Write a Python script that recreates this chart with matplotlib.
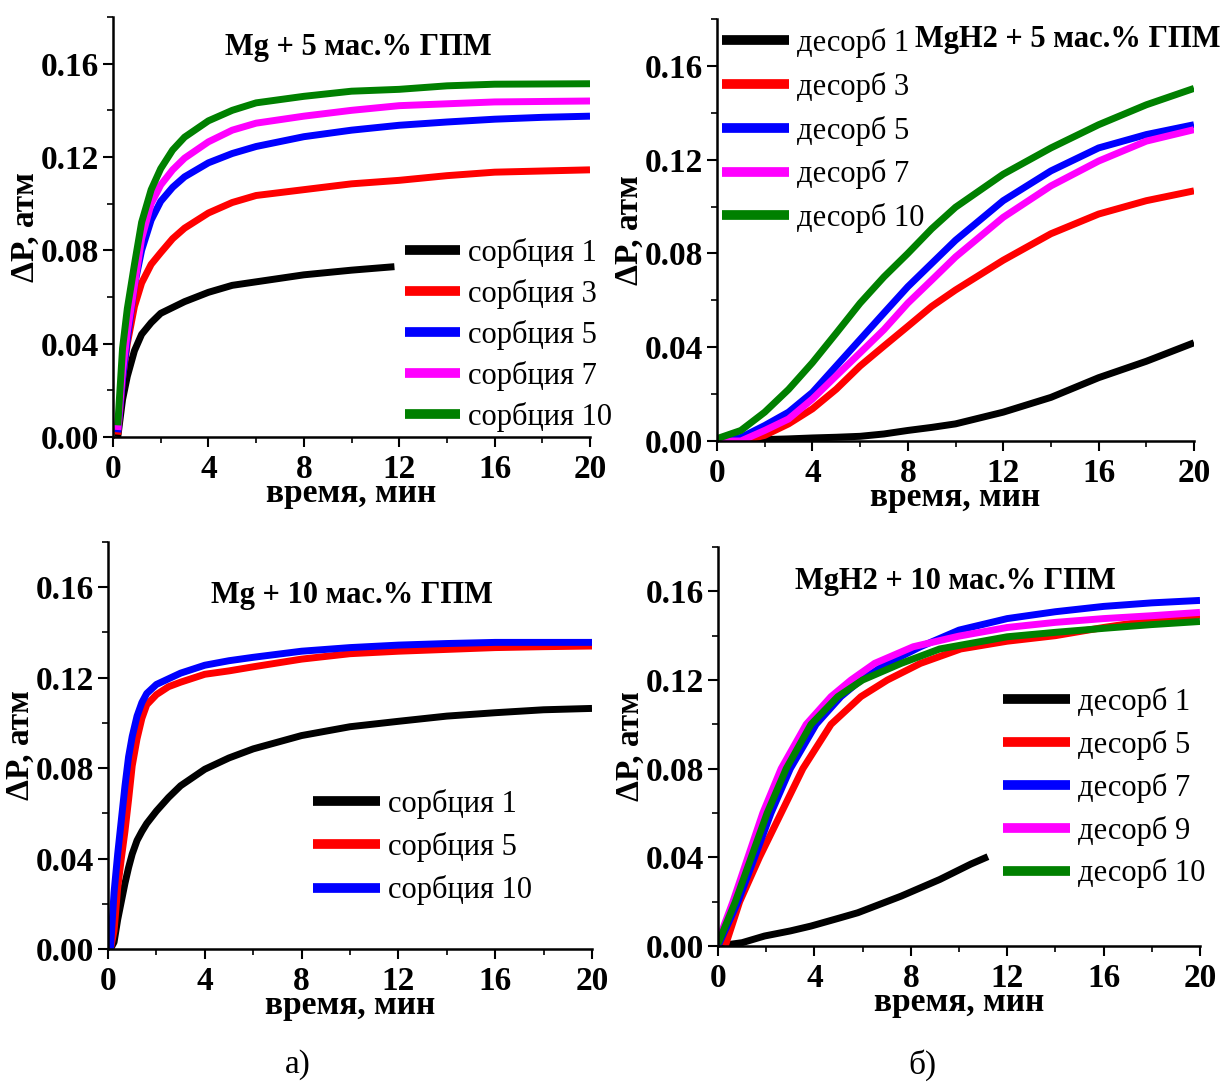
import matplotlib
matplotlib.use("Agg")
import matplotlib.pyplot as plt

plt.rcParams['font.family'] = ['Liberation Serif', 'DejaVu Serif']

# ---------------- data ----------------
# Panel a-top: Mg + 5 mass.% GPM (sorption)
t_a1 = [0.2, 0.4, 0.6, 0.9, 1.2, 1.6, 2, 2.5, 3, 4, 5, 6, 8, 10, 12, 14, 16, 18, 20]
a1_s1_t = [0.2, 0.4, 0.6, 0.9, 1.2, 1.6, 2, 2.5, 3, 4, 5, 6, 8, 10, 11.8]
a1_s1 = [0.0, 0.016, 0.026, 0.037, 0.044, 0.049, 0.053, 0.0555, 0.058, 0.062, 0.065, 0.0665, 0.0695, 0.0715, 0.0730]
a1_s3 = [0.001, 0.025, 0.040, 0.056, 0.066, 0.074, 0.079, 0.085, 0.0895, 0.096, 0.1005, 0.1035, 0.106, 0.1085, 0.110, 0.112, 0.1135, 0.114, 0.1145]
a1_s5 = [0.002, 0.025, 0.042, 0.065, 0.080, 0.093, 0.101, 0.107, 0.1115, 0.1175, 0.1215, 0.1245, 0.1287, 0.1315, 0.1336, 0.135, 0.1362, 0.137, 0.1375]
a1_s7 = [0.003, 0.028, 0.045, 0.065, 0.085, 0.100, 0.108, 0.1145, 0.1195, 0.1265, 0.1315, 0.1345, 0.1375, 0.140, 0.142, 0.1428, 0.1436, 0.1438, 0.144]
a1_s10 = [0.005, 0.038, 0.055, 0.074, 0.092, 0.106, 0.115, 0.123, 0.1285, 0.1355, 0.140, 0.1432, 0.146, 0.1482, 0.149, 0.1505, 0.1512, 0.1513, 0.1514]

# Panel b-top: MgH2 + 5 mass.% GPM (desorption)
t_b1 = [0, 1, 2, 3, 4, 5, 6, 7, 8, 9, 10, 12, 14, 16, 18, 20]
b1_d1 = [0.0, 0.0003, 0.0006, 0.0009, 0.0013, 0.0016, 0.0020, 0.0030, 0.0045, 0.0058, 0.0073, 0.0123, 0.0186, 0.0270, 0.0340, 0.0419]
b1_d3 = [0.0, 0.0, 0.0024, 0.0073, 0.0137, 0.0221, 0.0320, 0.0405, 0.0489, 0.0574, 0.0644, 0.0771, 0.0884, 0.0968, 0.1025, 0.1067]
b1_d5 = [0.0, 0.0015, 0.0066, 0.0123, 0.0207, 0.0320, 0.0433, 0.0546, 0.0658, 0.0757, 0.0856, 0.1025, 0.1152, 0.1250, 0.1307, 0.1349]
b1_d7 = [0.0, 0.0, 0.0045, 0.0094, 0.0179, 0.0278, 0.0376, 0.0475, 0.0588, 0.0686, 0.0785, 0.0954, 0.1088, 0.1194, 0.1279, 0.1328]
b1_d10 = [0.001, 0.0045, 0.0123, 0.0220, 0.0334, 0.0460, 0.0588, 0.0700, 0.0800, 0.0905, 0.0997, 0.1138, 0.1250, 0.1349, 0.1434, 0.1504]

# Panel a-bottom: Mg + 10 mass.% GPM (sorption)
t_a2 = [0.1, 0.25, 0.4, 0.55, 0.7, 0.85, 1.0, 1.2, 1.4, 1.6, 2, 2.5, 3, 4, 5, 6, 8, 10, 12, 14, 16, 18, 20]
a2_s1 = [0.0, 0.003, 0.013, 0.021, 0.029, 0.036, 0.042, 0.048, 0.052, 0.0555, 0.061, 0.067, 0.0722, 0.0795, 0.0845, 0.0885, 0.0944, 0.0983, 0.1007, 0.1030, 0.1045, 0.1058, 0.1064]
a2_s5 = [0.0, 0.008, 0.027, 0.040, 0.052, 0.066, 0.081, 0.093, 0.102, 0.108, 0.1125, 0.116, 0.118, 0.1215, 0.123, 0.1248, 0.1282, 0.1306, 0.1317, 0.1325, 0.1333, 0.1337, 0.1340]
a2_s10 = [0.0, 0.025, 0.042, 0.057, 0.072, 0.085, 0.094, 0.103, 0.109, 0.113, 0.117, 0.1195, 0.122, 0.1255, 0.1275, 0.129, 0.1317, 0.1333, 0.1344, 0.1351, 0.1356, 0.1356, 0.1356]

# Panel b-bottom: MgH2 + 10 mass.% GPM (desorption)
b2_d1_t = [0, 1.0, 1.93, 3.0, 3.86, 5.0, 5.8, 7.6, 9.2, 10.5, 11.2]
b2_d1 = [0.0, 0.0015, 0.0045, 0.0068, 0.009, 0.0125, 0.015, 0.0225, 0.030, 0.037, 0.0403]
b2_d5_t = [0.3, 0.9, 1.72, 2.62, 3.52, 4.69, 5.93, 7.03, 8.4, 10.07, 12, 14, 16, 18, 20]
b2_d5 = [0.0, 0.02, 0.04, 0.06, 0.08, 0.10, 0.1125, 0.12, 0.1275, 0.134, 0.1375, 0.140, 0.1437, 0.1469, 0.1493]
b2_d7_t = [0, 0.83, 1.52, 2.2, 3.0, 4.07, 5.1, 5.93, 7.03, 8.4, 10, 12, 14, 16, 18, 20]
b2_d7 = [0.0, 0.02, 0.04, 0.06, 0.08, 0.10, 0.1125, 0.12, 0.1275, 0.135, 0.1425, 0.1477, 0.1508, 0.1532, 0.1548, 0.1559]
b2_d9_t = [0, 0.62, 1.24, 1.86, 2.62, 3.66, 4.69, 5.52, 6.5, 8.1, 10, 12, 14, 16, 18, 20]
b2_d9 = [0.002, 0.02, 0.04, 0.06, 0.08, 0.10, 0.1125, 0.12, 0.1275, 0.135, 0.1398, 0.1437, 0.146, 0.1477, 0.149, 0.1505]
b2_d10_t = [0, 0.72, 1.38, 2.04, 2.83, 3.86, 4.97, 6.0, 7.6, 9.2, 12, 14, 16, 18, 20]
b2_d10 = [0.001, 0.02, 0.04, 0.06, 0.08, 0.10, 0.1125, 0.12, 0.1275, 0.134, 0.1395, 0.1415, 0.1433, 0.145, 0.1464]

xticks = [0, 4, 8, 12, 16, 20]
yticks = [0.00, 0.04, 0.08, 0.12, 0.16]
ytick_labels = ['0.00', '0.04', '0.08', '0.12', '0.16']

C_BLACK, C_RED, C_BLUE, C_MAG, C_GREEN = '#000000', '#ff0000', '#0000ff', '#ff00ff', '#008000'

W, H = 1227, 1082
fig = plt.figure(figsize=(W / 100, H / 100), dpi=100)


def px_axes(l, r, b, t):
    return fig.add_axes([l / W, 1 - b / H, (r - l) / W, (b - t) / H])


def style(ax):
    ax.set_xlim(0, 20)
    ax.set_ylim(0, 0.18)
    for s in ['top', 'right']:
        ax.spines[s].set_visible(False)
    for s in ['left', 'bottom']:
        ax.spines[s].set_linewidth(1.8)
    ax.set_xticks(xticks)
    ax.set_xticklabels([str(v) for v in xticks])
    ax.set_xticks([2, 6, 10, 14, 18], minor=True)
    ax.set_yticks(yticks)
    ax.set_yticklabels(ytick_labels)
    ax.set_yticks([0.02, 0.06, 0.10, 0.14, 0.18], minor=True)
    ax.tick_params(which='major', direction='out', length=7, width=1.5, labelsize=24, pad=3)
    ax.tick_params(axis='x', which='major', pad=5)
    ax.tick_params(which='minor', direction='out', length=4, width=1.2)
    for lab in ax.get_xticklabels() + ax.get_yticklabels():
        lab.set_fontweight('bold')
    ax.set_xlabel('время, мин', fontsize=24, fontweight='bold', labelpad=-5)
    ax.set_ylabel('ΔP, атм', fontsize=24, fontweight='bold', labelpad=0)


LW = 5
KW = dict(lw=LW, solid_joinstyle='round', solid_capstyle='butt')

# ---- top-left
ax1 = px_axes(113, 590, 437, 17)
style(ax1)
ax1.plot(a1_s1_t, a1_s1, color=C_BLACK, label='сорбция 1', **KW)
ax1.plot(t_a1, a1_s3, color=C_RED, label='сорбция 3', **KW)
ax1.plot(t_a1, a1_s5, color=C_BLUE, label='сорбция 5', **KW)
ax1.plot(t_a1, a1_s7, color=C_MAG, label='сорбция 7', **KW)
ax1.plot(t_a1, a1_s10, color=C_GREEN, label='сорбция 10', **KW)
fig.text(358 / W, 1 - 48 / H, 'Mg + 5 мас.% ГПМ', fontsize=22, fontweight='bold', ha='center', va='center')

# ---- top-right
ax2 = px_axes(717, 1194, 441, 19)
style(ax2)
ax2.plot(t_b1, b1_d1, color=C_BLACK, label='десорб 1', **KW)
ax2.plot(t_b1, b1_d3, color=C_RED, label='десорб 3', **KW)
ax2.plot(t_b1, b1_d5, color=C_BLUE, label='десорб 5', **KW)
ax2.plot(t_b1, b1_d7, color=C_MAG, label='десорб 7', **KW)
ax2.plot(t_b1, b1_d10, color=C_GREEN, label='десорб 10', **KW)
fig.text(1068 / W, 1 - 40 / H, 'MgH2 + 5 мас.% ГПМ', fontsize=22, fontweight='bold', ha='center', va='center')

# ---- bottom-left
ax3 = px_axes(108, 592, 949, 542)
style(ax3)
ax3.plot(t_a2, a2_s1, color=C_BLACK, label='сорбция 1', **KW)
ax3.plot(t_a2, a2_s5, color=C_RED, label='сорбция 5', **KW)
ax3.plot(t_a2, a2_s10, color=C_BLUE, label='сорбция 10', **KW)
fig.text(352 / W, 1 - 596 / H, 'Mg + 10 мас.% ГПМ', fontsize=22, fontweight='bold', ha='center', va='center')

# ---- bottom-right
ax4 = px_axes(718, 1200, 946, 547)
style(ax4)
ax4.plot(b2_d1_t, b2_d1, color=C_BLACK, label='десорб 1', **KW)
ax4.plot(b2_d5_t, b2_d5, color=C_RED, label='десорб 5', **KW)
ax4.plot(b2_d7_t, b2_d7, color=C_BLUE, label='десорб 7', **KW)
ax4.plot(b2_d9_t, b2_d9, color=C_MAG, label='десорб 9', **KW)
ax4.plot(b2_d10_t, b2_d10, color=C_GREEN, label='десорб 10', **KW)
fig.text(955 / W, 1 - 582 / H, 'MgH2 + 10 мас.% ГПМ', fontsize=22, fontweight='bold', ha='center', va='center')


def add_legend(ax, x0, ytop, hlen, spacing):
    leg = ax.legend(loc='upper left', bbox_to_anchor=(x0 / W, 1 - ytop / H),
                    bbox_transform=fig.transFigure, frameon=False, fontsize=22,
                    handlelength=hlen, handletextpad=0.25, labelspacing=spacing,
                    borderpad=0, borderaxespad=0)
    for line in leg.get_lines():
        line.set_linewidth(7)
        line.set_solid_capstyle('butt')
    return leg


add_legend(ax1, 405, 238, 1.8, 0.36)
add_legend(ax2, 722, 28, 2.2, 0.45)
add_legend(ax3, 313, 789, 2.2, 0.43)
add_legend(ax4, 1003, 687, 2.2, 0.42)

fig.text(298 / W, 1 - 1065 / H, 'а)', fontsize=24, ha='center', va='center')
fig.text(922 / W, 1 - 1065 / H, 'б)', fontsize=24, ha='center', va='center')

fig.savefig('out.png', dpi=100)
